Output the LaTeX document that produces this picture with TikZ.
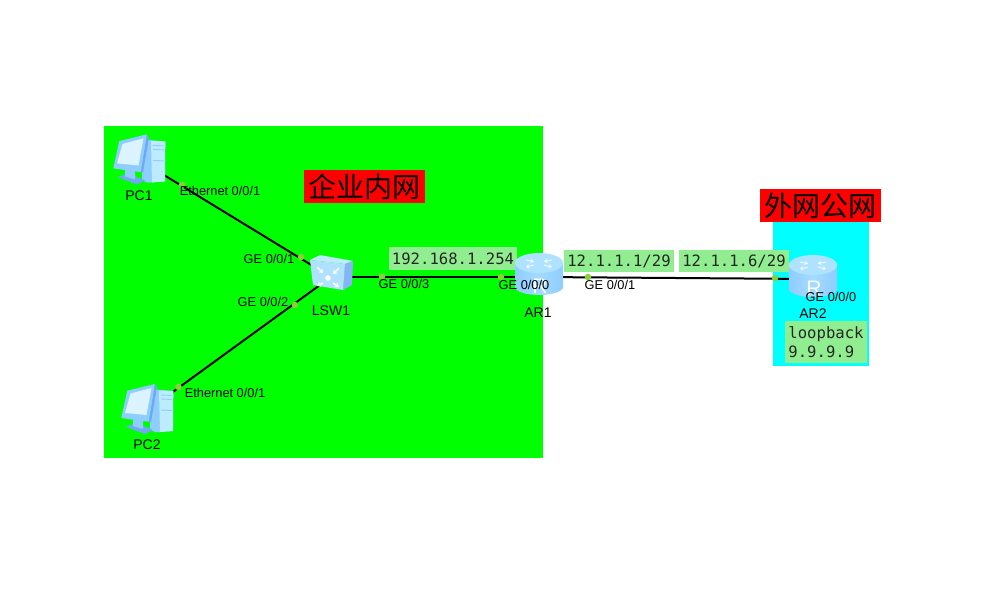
\documentclass[tikz,border=0pt]{standalone}
\usepackage{fontspec}
\setmainfont{Liberation Sans}
\newfontfamily\cjkf{Noto Sans CJK SC}
\newfontfamily\monof{DejaVu Sans Mono}
\usetikzlibrary{arrows.meta}
\definecolor{zonegreen}{HTML}{00FF00}
\definecolor{zonecyan}{HTML}{00FFFF}
\definecolor{titlered}{HTML}{FF0000}
\definecolor{ipgreen}{HTML}{90EE90}
\definecolor{portdot}{HTML}{8CCF3C}
\definecolor{iconlight}{HTML}{BDEBFF}
\definecolor{iconmid}{HTML}{8FCDFF}
\definecolor{icondeep}{HTML}{6FA8F5}
\tikzset{
  zone/.style={draw=none,inner sep=0pt},
  titlebox/.style={fill=titlered,inner sep=0pt,minimum height=33pt,minimum width=121pt,font=\cjkf\fontsize{28}{30}\selectfont},
  ipbox/.style={fill=ipgreen,inner sep=0pt,font=\monof\fontsize{15.6}{19.5}\selectfont,text=black!85},
  portlabel/.style={inner sep=0pt,font=\fontsize{12.8}{14}\selectfont},
  devlabel/.style={inner sep=0pt,font=\fontsize{14}{16}\selectfont},
  portdotn/.style={circle,fill=portdot,inner sep=0pt,minimum size=6.5pt},
  link/.style={draw=black,line width=2pt},
  anchorpt/.style={inner sep=0pt,minimum size=0pt},
  whitearrow/.style={white,line width=1.4pt,-{Stealth[length=4pt,width=5.5pt]}},
  toparrow/.style={white,opacity=.7,line width=1.1pt,-{Stealth[length=3.5pt,width=5pt]}},
  pcicon/.pic={
    \fill[iconmid] (2,-21) -- (25.3,-19) -- (25,21) -- (8,22.3) -- (2,20) -- cycle;
    \fill[iconlight] (11,-19.5) -- (25.3,-19) -- (25,21) -- (12,22) -- cycle;
    \draw[iconmid,line width=.9pt] (13,-15) -- (24,-14.5) (13,-11) -- (24,-10.5) (13,0) -- (24,.5);
    \fill[icondeep] (-22,16.7) -- (-12,13) -- (5,20) -- (-3.3,24) -- cycle;
    \fill[iconmid] (-15,9) -- (-5,10) -- (-5,19) -- (-15,16) -- cycle;
    \fill[icondeep] (6.7,-26) -- (9,-23) -- (3,12) -- (.7,11.7) -- cycle;
    \fill[iconmid] (-20.7,-19.3) -- (6.7,-26) -- (.7,11.7) -- (-26.7,8) -- cycle;
    \fill[iconlight!55!white] (-17.5,-16.5) -- (3.5,-22) -- (-1.5,5) -- (-23,3) -- cycle;
  },
  switchicon/.pic={
    \fill[iconlight] (-21,-17) -- (-11,-22) -- (22,-16) -- (14,-13) -- cycle;
    \fill[icondeep!85!white] (14,-13) -- (22,-16) -- (21,8) -- (12,13) -- cycle;
    \fill[iconlight!70!iconmid] (-21,-17) -- (14,-13) -- (12,13) -- (-18,8) -- cycle;
    \draw[whitearrow] (-14,-10) -- (-8,-4);
    \draw[whitearrow] (8,-9) -- (2,-3);
    \draw[whitearrow] (-8,6) -- (-14,9);
    \draw[whitearrow] (2,6) -- (8,10);
    \fill[white] (-3,1) circle (2.8pt);
  },
  routericon/.pic={
    \path[left color=iconmid,right color=iconmid,middle color=iconmid!55!iconlight]
      (-24,-14) -- (-24,10) arc[start angle=180,end angle=360,x radius=24pt,y radius=8pt] -- (24,-14) -- cycle;
    \fill[iconlight!70!iconmid] (0,-14) ellipse[x radius=24pt,y radius=10pt];
    \draw[toparrow] (-13,-17) -- (-5,-15.5);
    \draw[toparrow] (13,-17) -- (5,-15.5);
    \draw[toparrow] (-5,-12) -- (-13,-10);
    \draw[toparrow] (5,-12) -- (13,-10);
    \node[anchorpt,white,font=\fontsize{21}{21}\selectfont] at (1,9) {R};
  },
}
\begin{document}
\begin{tikzpicture}[x=1pt,y=-1pt]
\useasboundingbox (0,0) rectangle (991,589);
\fill[white] (0,0) rectangle (991,589);
% zones
\node[zone,fill=zonegreen,minimum width=439pt,minimum height=332pt] (inner) at (323.5,292) {};
\node[zone,fill=zonecyan,minimum width=96pt,minimum height=144pt] (outer) at (821,293.5) {};
% device anchors
\node[anchorpt] (pc1) at (140,160.4) {};
\node[anchorpt] (pc2) at (148,410) {};
\node[anchorpt] (lsw1) at (331,277) {};
\node[anchorpt] (ar1) at (539,277) {};
\node[anchorpt] (ar2) at (813,279) {};
% titles
\node[titlebox] (t1) at (364.5,186.5) {企业内网};
\node[titlebox] (t2) at (820,205.5) {外网公网};
% ip boxes
\node[ipbox,minimum width=128pt,minimum height=23pt] (ip1) at (453,258.5) {192.168.1.254};
\node[ipbox,minimum width=110pt,minimum height=22pt] (ip2) at (619,261) {12.1.1.1/29};
\node[ipbox,minimum width=110pt,minimum height=22pt] (ip3) at (734,261) {12.1.1.6/29};
\node[ipbox,minimum width=82pt,minimum height=42pt,align=left] (ip4) at (826,342) {loopback\\9.9.9.9};
% links
\draw[link] (pc1.center) -- (lsw1.center);
\draw[link] (pc2.center) -- (lsw1.center);
\draw[link] (lsw1.center) -- (ar1.center);
\draw[link] (ar1.center) -- (ar2.center);
% icons
\pic at (pc1) {pcicon};
\pic at (pc2) {pcicon};
\pic at (lsw1) {switchicon};
\pic at (ar1) {routericon};
\pic at (ar2) {routericon};
% port dots
\node[portdotn] (d1) at (182,185) {};
\node[portdotn] (d2) at (301,257) {};
\node[portdotn] (d3) at (295,305) {};
\node[portdotn] (d4) at (178.500,387) {};
\node[portdotn] (d5) at (382,276.500) {};
\node[portdotn] (d6) at (501,277) {};
\node[portdotn] (d7) at (588,277) {};
\node[portdotn] (d8) at (775,278) {};
% labels
\node[devlabel] (l1) at (139,196) {PC1};
\node[devlabel] (l2) at (147,445) {PC2};
\node[devlabel] (l3) at (331,311) {LSW1};
\node[devlabel] (l4) at (538,313) {AR1};
\node[devlabel] (l5) at (813,314) {AR2};
\node[portlabel] (p1) at (220,190.500) {Ethernet 0/0/1};
\node[portlabel] (p2) at (269,259) {GE 0/0/1};
\node[portlabel] (p3) at (263,302) {GE 0/0/2};
\node[portlabel] (p4) at (225,392.500) {Ethernet 0/0/1};
\node[portlabel] (p5) at (404,284) {GE 0/0/3};
\node[portlabel] (p6) at (524,285) {GE 0/0/0};
\node[portlabel] (p7) at (610,285) {GE 0/0/1};
\node[portlabel] (p8) at (831,297) {GE 0/0/0};
\end{tikzpicture}
\end{document}
